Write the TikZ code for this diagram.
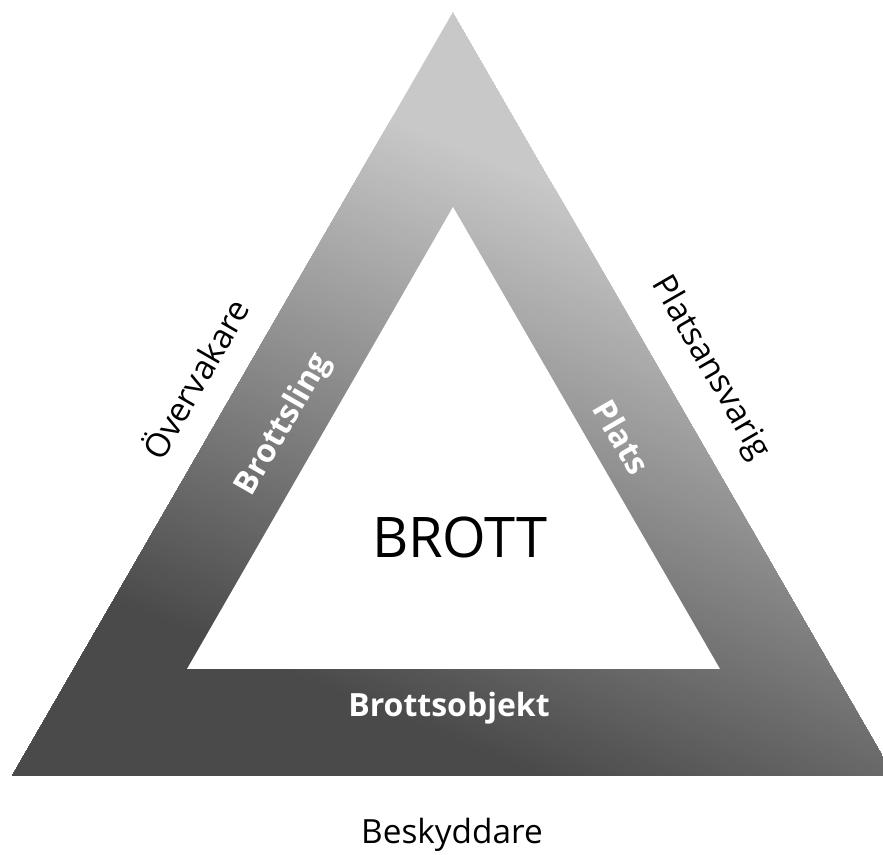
\documentclass[tikz,border=0pt]{standalone}
\usepackage{fontspec}
\setmainfont{Open Sans}

\tikzset{every picture/.style={line width=0.75pt}}
\tikzset{
  sidetext/.style={inner sep=0.75pt, font=\fontsize{25}{30}\selectfont},
  bandtext/.style={inner sep=0.75pt, text=white, font=\bfseries\fontsize{24}{30}\selectfont},
}

\begin{document}
\begin{tikzpicture}[x=0.75pt,y=0.75pt,yscale=-1,xscale=1]
\useasboundingbox (0,0) rectangle (883,855);

% corners of the outer and inner triangle
\coordinate (outtop) at (453,12);
\coordinate (outleft) at (12,776);
\coordinate (outright) at (894,776);
\coordinate (intop) at (453,207);
\coordinate (inleft) at (187,669);
\coordinate (inright) at (720,669);

%Shape: outer triangle, grey shaded
\begin{scope}
\clip (outtop) -- (outleft) -- (outright) -- cycle;
\fill [black!21.6!white] (outtop) -- (outleft) -- (outright) -- cycle;
\begin{scope}[shift={(455,400)}, rotate=22.2]
\foreach \i in {0,...,100} {
  \pgfmathsetmacro{\yy}{-239+5.53*\i}
  \pgfmathsetmacro{\pp}{21.6+0.494*\i}
  \fill [black!\pp!white] (-1500,\yy) rectangle (1500,1500);
}
\end{scope}
\end{scope}
%Shape: inner triangle
\fill [white] (intop) -- (inleft) -- (inright) -- cycle;

% Text Node
\draw (460,558) node [anchor=base, inner sep=0.75pt, font=\fontsize{42}{50}\selectfont] (brott) {BROTT};
% Text Node
\draw (449,717) node [bandtext, anchor=base] (objekt) {Brottsobjekt};
% Text Node
\draw (452,843) node [sidetext, anchor=base] (beskyddare) {Beskyddare};
% Text Node
\draw (194,378) node [sidetext, rotate=60] (overvakare) {Övervakare};
% Text Node
\draw (284,425) node [bandtext, rotate=60] (brottsling) {Brottsling};
% Text Node
\draw (622,437) node [bandtext, rotate=-60] (plats) {Plats};
% Text Node
\draw (710,368) node [sidetext, rotate=-60] (platsansvarig) {Platsansvarig};

\end{tikzpicture}
\end{document}
